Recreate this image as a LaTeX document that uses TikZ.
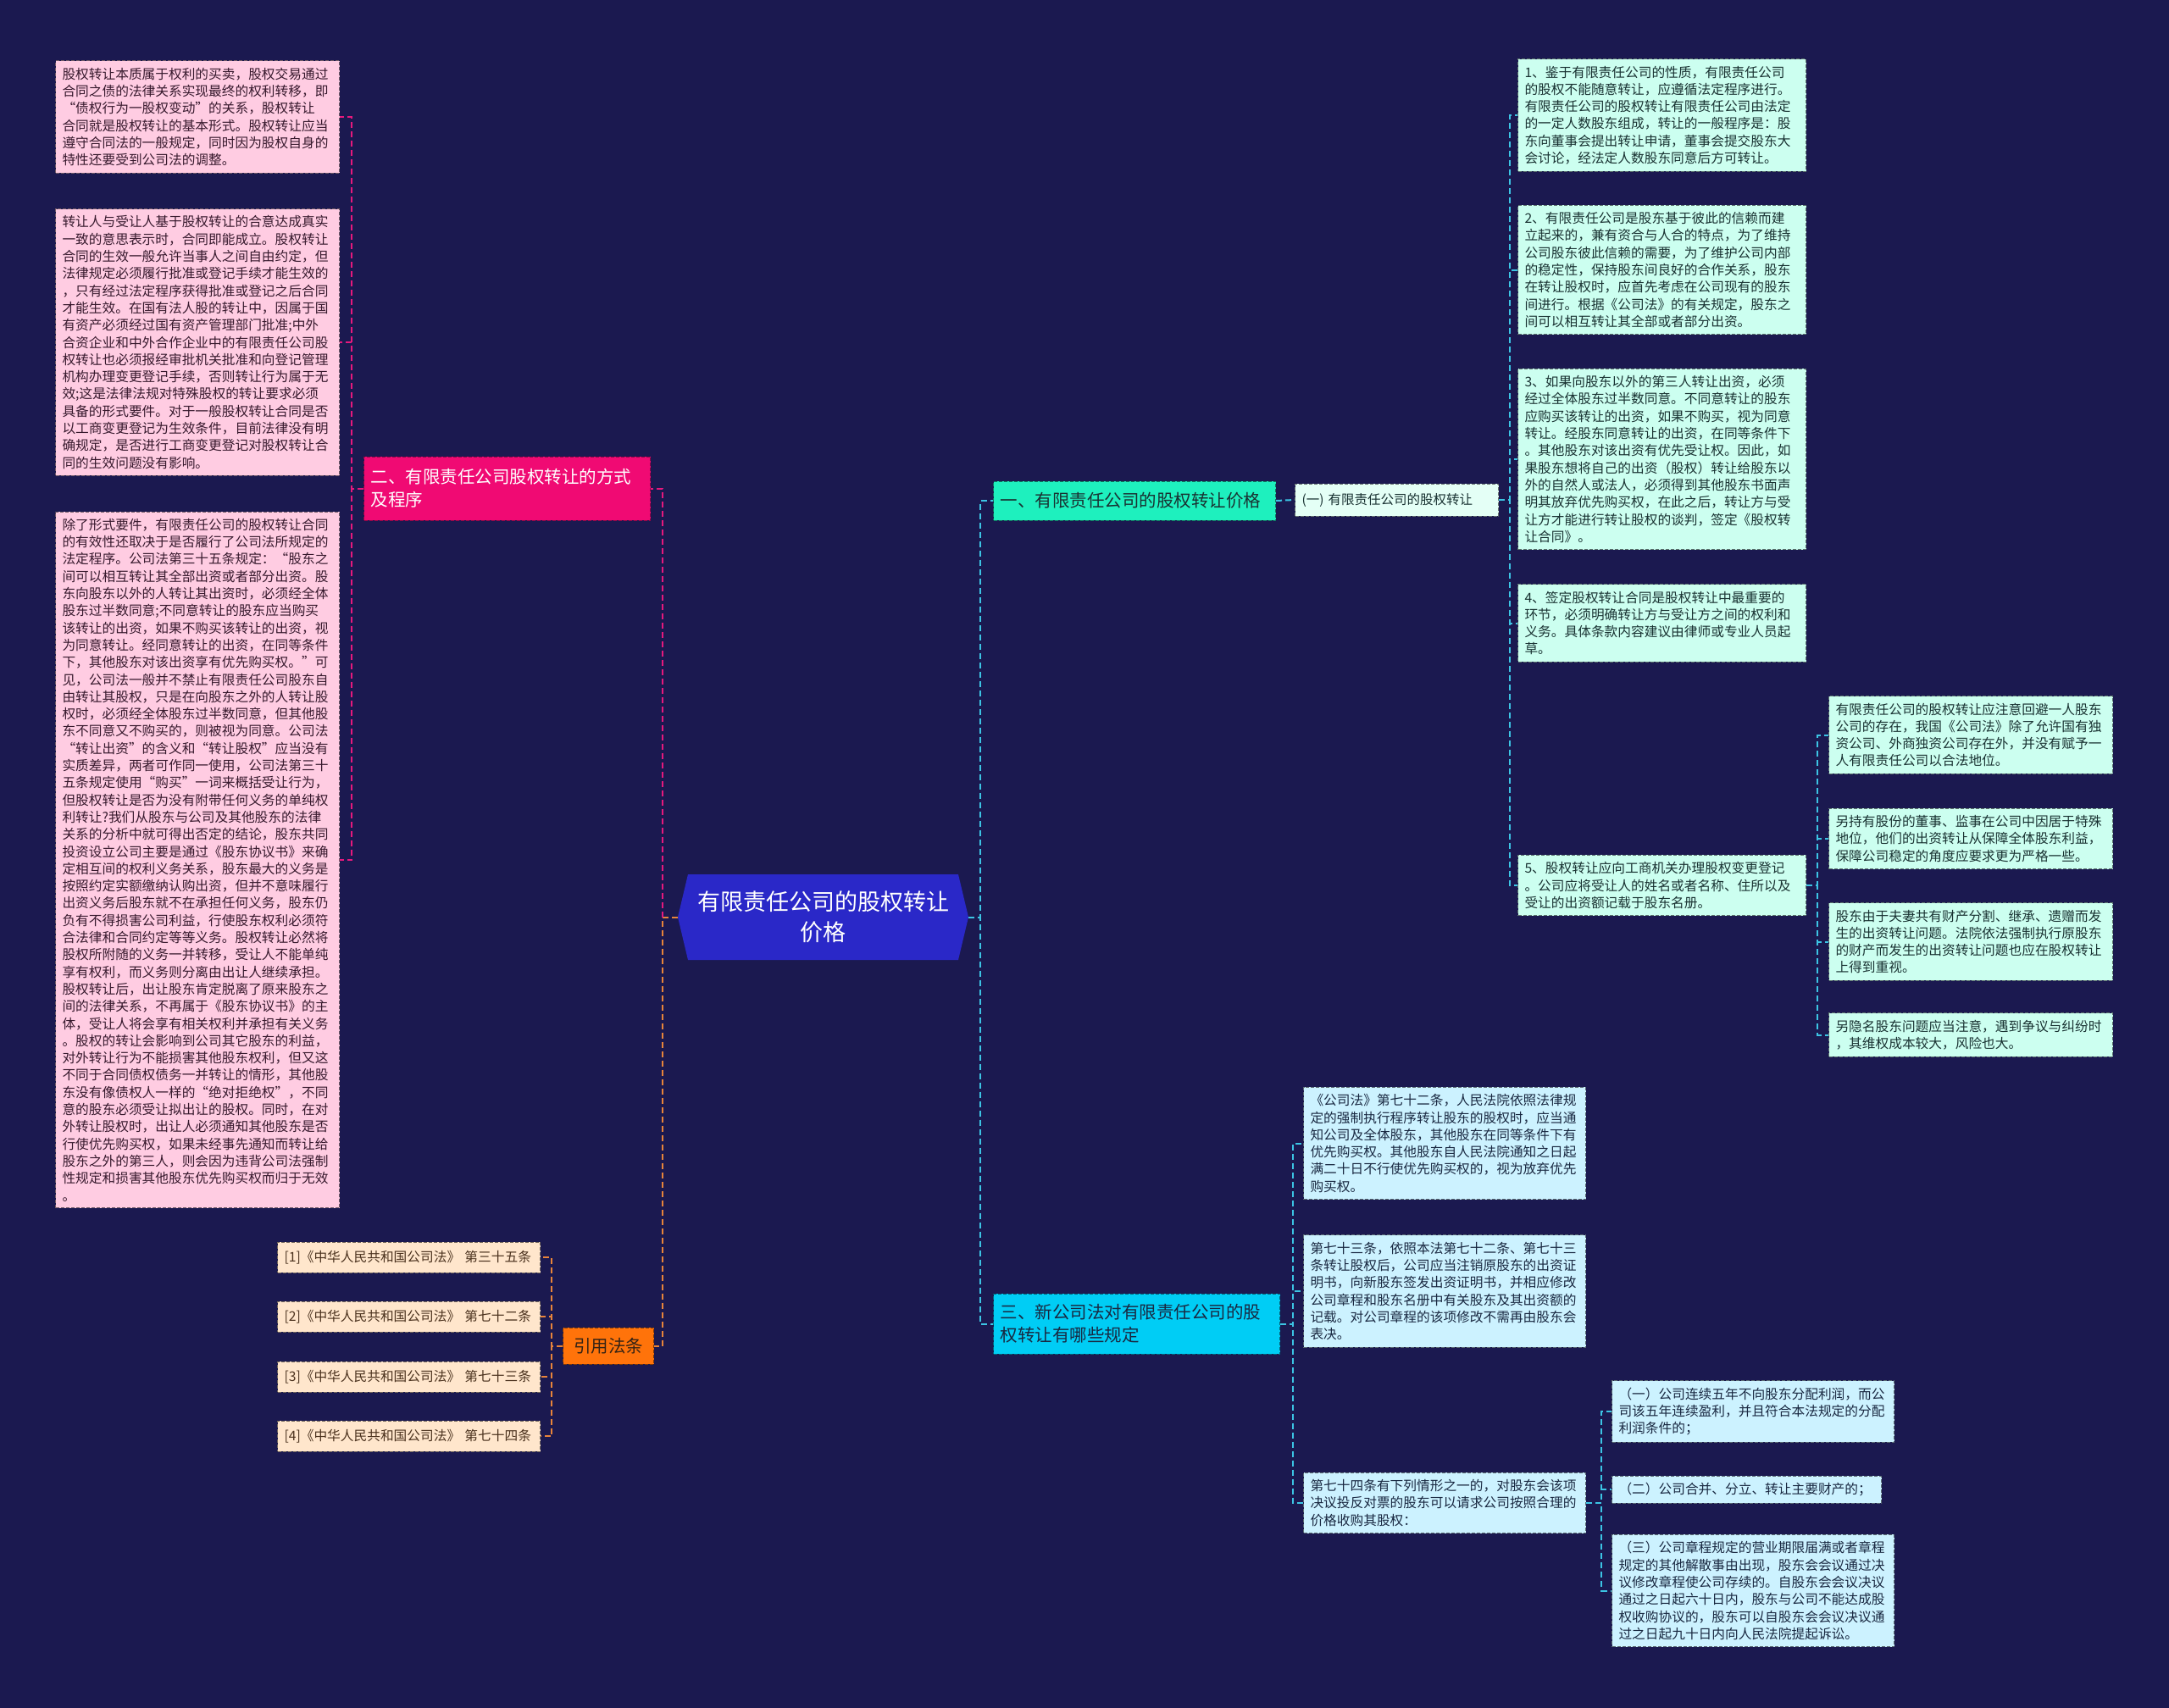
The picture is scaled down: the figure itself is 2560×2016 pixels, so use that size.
\documentclass[tikz,border=0pt]{standalone}
\usepackage{fontspec}
\setmainfont{Noto Sans CJK SC}
\definecolor{bgc}{RGB}{27,25,80}
\definecolor{cenc}{RGB}{42,40,200}
\definecolor{pinkB}{RGB}{240,10,115}
\definecolor{pinkL}{RGB}{255,204,226}
\definecolor{pinkT}{RGB}{55,25,45}
\definecolor{mintB}{RGB}{30,240,190}
\definecolor{mintL}{RGB}{204,255,240}
\definecolor{mintS}{RGB}{228,255,246}
\definecolor{mintT}{RGB}{25,50,50}
\definecolor{cyanB}{RGB}{0,205,245}
\definecolor{blueL}{RGB}{204,242,255}
\definecolor{blueT}{RGB}{25,40,65}
\definecolor{orgB}{RGB}{255,115,10}
\definecolor{peach}{RGB}{255,230,204}
\definecolor{peachT}{RGB}{75,50,30}
\definecolor{lpink}{RGB}{230,25,125}
\definecolor{lcyan}{RGB}{60,196,228}
\definecolor{lorg}{RGB}{232,132,58}
\begin{document}
\begin{tikzpicture}[x=1pt,y=-1pt,
 conn/.style={line width=2pt, dash pattern=on 7pt off 4pt},
 nbase/.style={anchor=west, align=left, inner xsep=8pt, inner ysep=8pt, line width=1pt, dash pattern=on 4pt off 2pt, font=\fontsize{15.7}{20.3}\selectfont},
 pbox/.style={nbase, fill=pinkL, draw=pinkL!45!black, text=pinkT, text width=319pt},
 mbox/.style={nbase, fill=mintL, draw=mintL!45!black, text=mintT, text width=#1},
 bbox/.style={nbase, fill=blueL, draw=blueL!45!black, text=blueT, text width=#1},
 cbox/.style={nbase, fill=peach, draw=peach!45!black, text=peachT, text width=294pt, minimum height=36pt},
 bigfont/.style={font=\fontsize{20.5}{27}\selectfont}
]
\fill[bgc] (0,0) rectangle (2560,2016);

% central node
\fill[cenc] (800,1082.5) -- (812,1032) -- (1131,1032) -- (1143,1082.5) -- (1131,1133) -- (812,1133) -- cycle;
\node[text=white, align=center, font=\fontsize{27}{36}\selectfont] (cen) at (971.5,1082.5) {有限责任公司的股权转让\\价格};
\coordinate (cenL) at (800,1082.5);
\coordinate (cenR) at (1143,1082.5);
\coordinate (trunkL) at (782,1082.5);

% branch nodes
\node[nbase, bigfont, fill=pinkB, draw=pinkB!60!black, text=white, text width=322pt, minimum height=75pt] (b2) at (429,576.5) {二、有限责任公司股权转让的方式\\及程序};
\node[nbase, bigfont, fill=mintB, draw=mintB!50!black, text=mintT, text width=317pt, minimum height=46pt] (b1) at (1172,591) {一、有限责任公司的股权转让价格};
\node[nbase, font=\fontsize{15.5}{20}\selectfont, fill=mintS, draw=mintS!45!black, text=mintT, text width=224pt, minimum height=38pt] (sub1) at (1528,590) {(一) 有限责任公司的股权转让};
\node[nbase, bigfont, fill=cyanB, draw=cyanB!50!black, text=blueT, text width=322pt, minimum height=71pt] (b3) at (1172,1562.5) {三、新公司法对有限责任公司的股\\权转让有哪些规定};
\node[nbase, bigfont, fill=orgB, draw=orgB!50!black, text=peachT!70!black, align=center, minimum width=107pt, minimum height=43pt, inner xsep=4pt] (cite) at (664,1588.5) {引用法条};

% left pink boxes
\node[pbox] (L1) at (65,138) {股权转让本质属于权利的买卖，股权交易通过\\合同之债的法律关系实现最终的权利转移，即\\“债权行为一股权变动”的关系，股权转让\\合同就是股权转让的基本形式。股权转让应当\\遵守合同法的一般规定，同时因为股权自身的\\特性还要受到公司法的调整。};
\node[pbox] (L2) at (65,404) {转让人与受让人基于股权转让的合意达成真实\\一致的意思表示时，合同即能成立。股权转让\\合同的生效一般允许当事人之间自由约定，但\\法律规定必须履行批准或登记手续才能生效的\\，只有经过法定程序获得批准或登记之后合同\\才能生效。在国有法人股的转让中，因属于国\\有资产必须经过国有资产管理部门批准;中外\\合资企业和中外合作企业中的有限责任公司股\\权转让也必须报经审批机关批准和向登记管理\\机构办理变更登记手续，否则转让行为属于无\\效;这是法律法规对特殊股权的转让要求必须\\具备的形式要件。对于一般股权转让合同是否\\以工商变更登记为生效条件，目前法律没有明\\确规定，是否进行工商变更登记对股权转让合\\同的生效问题没有影响。};
\node[pbox] (L3) at (65,1015) {除了形式要件，有限责任公司的股权转让合同\\的有效性还取决于是否履行了公司法所规定的\\法定程序。公司法第三十五条规定：“股东之\\间可以相互转让其全部出资或者部分出资。股\\东向股东以外的人转让其出资时，必须经全体\\股东过半数同意;不同意转让的股东应当购买\\该转让的出资，如果不购买该转让的出资，视\\为同意转让。经同意转让的出资，在同等条件\\下，其他股东对该出资享有优先购买权。”可\\见，公司法一般并不禁止有限责任公司股东自\\由转让其股权，只是在向股东之外的人转让股\\权时，必须经全体股东过半数同意，但其他股\\东不同意又不购买的，则被视为同意。公司法\\“转让出资”的含义和“转让股权”应当没有\\实质差异，两者可作同一使用，公司法第三十\\五条规定使用“购买”一词来概括受让行为，\\但股权转让是否为没有附带任何义务的单纯权\\利转让?我们从股东与公司及其他股东的法律\\关系的分析中就可得出否定的结论，股东共同\\投资设立公司主要是通过《股东协议书》来确\\定相互间的权利义务关系，股东最大的义务是\\按照约定实额缴纳认购出资，但并不意味履行\\出资义务后股东就不在承担任何义务，股东仍\\负有不得损害公司利益，行使股东权利必须符\\合法律和合同约定等等义务。股权转让必然将\\股权所附随的义务一并转移，受让人不能单纯\\享有权利，而义务则分离由出让人继续承担。\\股权转让后，出让股东肯定脱离了原来股东之\\间的法律关系，不再属于《股东协议书》的主\\体，受让人将会享有相关权利并承担有关义务\\。股权的转让会影响到公司其它股东的利益，\\对外转让行为不能损害其他股东权利，但又这\\不同于合同债权债务一并转让的情形，其他股\\东没有像债权人一样的“绝对拒绝权”，不同\\意的股东必须受让拟出让的股权。同时，在对\\外转让股权时，出让人必须通知其他股东是否\\行使优先购买权，如果未经事先通知而转让给\\股东之外的第三人，则会因为违背公司法强制\\性规定和损害其他股东优先购买权而归于无效\\。};

% citations
\node[cbox] (K1) at (327,1484) {[1]《中华人民共和国公司法》 第三十五条};
\node[cbox] (K2) at (327,1554) {[2]《中华人民共和国公司法》 第七十二条};
\node[cbox] (K3) at (327,1625) {[3]《中华人民共和国公司法》 第七十三条};
\node[cbox] (K4) at (327,1695) {[4]《中华人民共和国公司法》 第七十四条};

% right mint boxes
\node[mbox=324pt] (R1) at (1791,136) {1、鉴于有限责任公司的性质，有限责任公司\\的股权不能随意转让，应遵循法定程序进行。\\有限责任公司的股权转让有限责任公司由法定\\的一定人数股东组成，转让的一般程序是：股\\东向董事会提出转让申请，董事会提交股东大\\会讨论，经法定人数股东同意后方可转让。};
\node[mbox=324pt] (R2) at (1791,318.5) {2、有限责任公司是股东基于彼此的信赖而建\\立起来的，兼有资合与人合的特点，为了维持\\公司股东彼此信赖的需要，为了维护公司内部\\的稳定性，保持股东间良好的合作关系，股东\\在转让股权时，应首先考虑在公司现有的股东\\间进行。根据《公司法》的有关规定，股东之\\间可以相互转让其全部或者部分出资。};
\node[mbox=324pt] (R3) at (1791,542) {3、如果向股东以外的第三人转让出资，必须\\经过全体股东过半数同意。不同意转让的股东\\应购买该转让的出资，如果不购买，视为同意\\转让。经股东同意转让的出资，在同等条件下\\。其他股东对该出资有优先受让权。因此，如\\果股东想将自己的出资（股权）转让给股东以\\外的自然人或法人，必须得到其他股东书面声\\明其放弃优先购买权，在此之后，转让方与受\\让方才能进行转让股权的谈判，签定《股权转\\让合同》。};
\node[mbox=324pt] (R4) at (1791,735.5) {4、签定股权转让合同是股权转让中最重要的\\环节，必须明确转让方与受让方之间的权利和\\义务。具体条款内容建议由律师或专业人员起\\草。};
\node[mbox=324pt] (R5) at (1791,1045) {5、股权转让应向工商机关办理股权变更登记\\。公司应将受让人的姓名或者名称、住所以及\\受让的出资额记载于股东名册。};

\node[mbox=319pt] (S1) at (2158,867.5) {有限责任公司的股权转让应注意回避一人股东\\公司的存在，我国《公司法》除了允许国有独\\资公司、外商独资公司存在外，并没有赋予一\\人有限责任公司以合法地位。};
\node[mbox=319pt] (S2) at (2158,990) {另持有股份的董事、监事在公司中因居于特殊\\地位，他们的出资转让从保障全体股东利益，\\保障公司稳定的角度应要求更为严格一些。};
\node[mbox=319pt] (S3) at (2158,1111.5) {股东由于夫妻共有财产分割、继承、遗赠而发\\生的出资转让问题。法院依法强制执行原股东\\的财产而发生的出资转让问题也应在股权转让\\上得到重视。};
\node[mbox=319pt] (S4) at (2158,1221.5) {另隐名股东问题应当注意，遇到争议与纠纷时\\，其维权成本较大，风险也大。};

% light blue boxes
\node[bbox=317pt] (A) at (1538,1349.5) {《公司法》第七十二条，人民法院依照法律规\\定的强制执行程序转让股东的股权时，应当通\\知公司及全体股东，其他股东在同等条件下有\\优先购买权。其他股东自人民法院通知之日起\\满二十日不行使优先购买权的，视为放弃优先\\购买权。};
\node[bbox=317pt] (B) at (1538,1524) {第七十三条，依照本法第七十二条、第七十三\\条转让股权后，公司应当注销原股东的出资证\\明书，向新股东签发出资证明书，并相应修改\\公司章程和股东名册中有关股东及其出资额的\\记载。对公司章程的该项修改不需再由股东会\\表决。};
\node[bbox=317pt] (C) at (1538,1774) {第七十四条有下列情形之一的，对股东会该项\\决议投反对票的股东可以请求公司按照合理的\\价格收购其股权：};
\node[bbox=317pt] (C1) at (1902,1666) {（一）公司连续五年不向股东分配利润，而公\\司该五年连续盈利，并且符合本法规定的分配\\利润条件的；};
\node[bbox=302pt] (C2) at (1902,1758) {（二）公司合并、分立、转让主要财产的；};
\node[bbox=317pt] (C3) at (1902,1877.5) {（三）公司章程规定的营业期限届满或者章程\\规定的其他解散事由出现，股东会会议通过决\\议修改章程使公司存续的。自股东会会议决议\\通过之日起六十日内，股东与公司不能达成股\\权收购协议的，股东可以自股东会会议决议通\\过之日起九十日内向人民法院提起诉讼。};

% connectors: left
\draw[conn, lorg] (cenL) -- (trunkL) |- (cite.east);
\draw[conn, lpink] (trunkL) |- (b2.east);
\foreach \n in {L1,L2,L3}
  \draw[conn, lpink] (b2.west) -- ([xshift=-14pt]b2.west) |- (\n.east);
\foreach \n in {K1,K2,K3,K4}
  \draw[conn, lorg] (cite.west) -- ([xshift=-13pt]cite.west) |- (\n.east);

% connectors: right
\draw[conn, lcyan] (cenR) -- ([xshift=14pt]cenR) |- (b1.west);
\draw[conn, lcyan] (cenR) -- ([xshift=14pt]cenR) |- (b3.west);
\draw[conn, lcyan] (b1.east) -- (sub1.west);
\foreach \n in {R1,R2,R3,R4,R5}
  \draw[conn, lcyan] (sub1.east) -- ([xshift=13pt]sub1.east) |- (\n.west);
\foreach \n in {S1,S2,S3,S4}
  \draw[conn, lcyan] (R5.east) -- ([xshift=13pt]R5.east) |- (\n.west);
\foreach \n in {A,B,C}
  \draw[conn, lcyan] (b3.east) -- ([xshift=15pt]b3.east) |- (\n.west);
\foreach \n in {C1,C2,C3}
  \draw[conn, lcyan] (C.east) -- ([xshift=18pt]C.east) |- (\n.west);
\end{tikzpicture}
\end{document}
